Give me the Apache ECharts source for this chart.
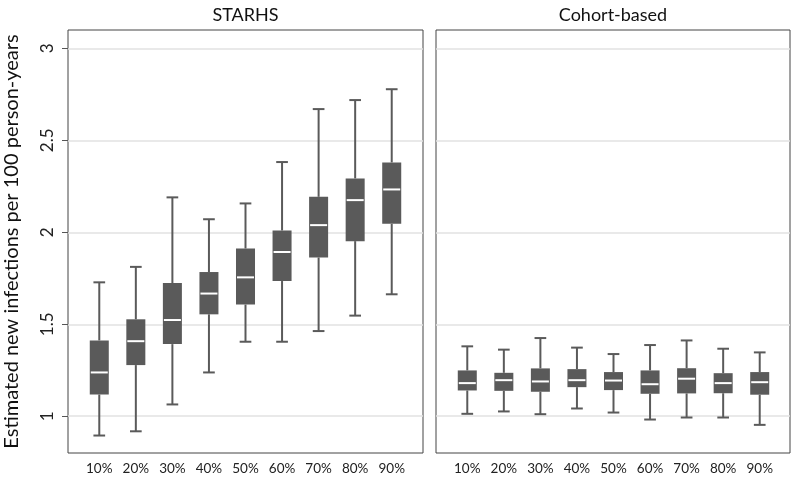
<!DOCTYPE html>
<html>
<head>
<meta charset="utf-8">
<script src="https://cdn.jsdelivr.net/npm/echarts@6/dist/echarts.min.js"></script>
<style>
html,body{margin:0;padding:0;background:#fff;}
#chart{width:800px;height:482px;}
</style>
</head>
<body>
<div id="chart"></div>
<script>
// ---- data ----
const categories = ['10%', '20%', '30%', '40%', '50%', '60%', '70%', '80%', '90%'];
const panelTitles = ['STARHS', 'Cohort-based'];
const yTicks = [1, 1.5, 2, 2.5, 3];
const yName = 'Estimated new infections per 100 person-years';
// each row: [lower whisker, Q1, median, Q3, upper whisker]
const starhs = [
  [0.895, 1.118, 1.238, 1.412, 1.728],
  [0.918, 1.278, 1.408, 1.527, 1.812],
  [1.064, 1.392, 1.523, 1.724, 2.190],
  [1.238, 1.554, 1.667, 1.784, 2.071],
  [1.405, 1.607, 1.755, 1.912, 2.157],
  [1.405, 1.735, 1.893, 2.010, 2.382],
  [1.463, 1.863, 2.039, 2.193, 2.670],
  [1.547, 1.952, 2.175, 2.293, 2.719],
  [1.663, 2.046, 2.233, 2.380, 2.778]
];
const cohort = [
  [1.013, 1.140, 1.180, 1.249, 1.380],
  [1.026, 1.138, 1.196, 1.236, 1.362],
  [1.011, 1.133, 1.189, 1.260, 1.425],
  [1.042, 1.158, 1.196, 1.256, 1.373],
  [1.020, 1.142, 1.194, 1.240, 1.338],
  [0.982, 1.122, 1.174, 1.249, 1.387],
  [0.993, 1.124, 1.204, 1.261, 1.412],
  [0.993, 1.125, 1.180, 1.234, 1.367],
  [0.953, 1.117, 1.185, 1.240, 1.347]
];

const Y_MIN = 0.8, Y_MAX = 3.1;
const FONT = 'Lato, "Noto Sans", sans-serif';
const BOX = '#5a5a5a';

function renderBox(params, api) {
  const c = api.value(0);
  const lo = api.value(1), q1 = api.value(2), med = api.value(3), q3 = api.value(4), hi = api.value(5);
  const band = api.size([1, 0])[0];
  const bw = band * 0.52, cw = band * 0.32;
  const pLo = api.coord([c, lo]), pQ1 = api.coord([c, q1]), pMed = api.coord([c, med]),
        pQ3 = api.coord([c, q3]), pHi = api.coord([c, hi]);
  const x = pLo[0];
  const ls = {stroke: BOX, lineWidth: 2};
  return {
    type: 'group',
    children: [
      {type: 'line', shape: {x1: x, y1: pHi[1], x2: x, y2: pQ3[1]}, style: ls},
      {type: 'line', shape: {x1: x, y1: pQ1[1], x2: x, y2: pLo[1]}, style: ls},
      {type: 'line', shape: {x1: x - cw / 2, y1: pHi[1], x2: x + cw / 2, y2: pHi[1]}, style: ls},
      {type: 'line', shape: {x1: x - cw / 2, y1: pLo[1], x2: x + cw / 2, y2: pLo[1]}, style: ls},
      {type: 'rect', shape: {x: x - bw / 2, y: pQ3[1], width: bw, height: pQ1[1] - pQ3[1]}, style: {fill: BOX}},
      {type: 'line', shape: {x1: x - bw / 2 + 1, y1: pMed[1], x2: x + bw / 2 - 1, y2: pMed[1]}, style: {stroke: '#fff', lineWidth: 2}}
    ]
  };
}

const frames = [
  {left: 68, top: 30, width: 355, height: 423},
  {left: 436, top: 30, width: 354, height: 423}
];
const dataGrids = [
  {left: 81, top: 30, width: 329, height: 423},
  {left: 449, top: 30, width: 329, height: 423}
];

const grid = [], xAxis = [], yAxis = [], series = [];
frames.forEach((f, i) => {
  grid.push(Object.assign({show: true, borderColor: '#444', borderWidth: 1, backgroundColor: 'transparent'}, f));
  xAxis.push({type: 'value', gridIndex: i, show: false, min: 0, max: 1});
  yAxis.push({
    type: 'value', gridIndex: i, min: Y_MIN, max: Y_MAX,
    name: i === 0 ? yName : '',
    nameLocation: 'middle', nameRotate: 90, nameGap: 46,
    nameTextStyle: {fontSize: 20, color: '#111', fontFamily: FONT},
    axisLine: {show: false},
    axisTick: {show: i === 0, length: 6, lineStyle: {color: '#555'}, customValues: yTicks},
    axisLabel: {show: i === 0, rotate: 90, fontSize: 17, color: '#222', fontFamily: FONT, margin: 12, customValues: yTicks},
    splitLine: {show: true, lineStyle: {color: '#e2e2e2', width: 1.5}}
  });
});
[starhs, cohort].forEach((d, i) => {
  const gi = i + 2;
  grid.push(Object.assign({show: false}, dataGrids[i]));
  xAxis.push({
    type: 'category', gridIndex: gi, data: categories,
    axisLine: {show: false}, axisTick: {show: false},
    axisLabel: {fontSize: 13.5, color: '#222', fontFamily: FONT, margin: 9}
  });
  yAxis.push({type: 'value', gridIndex: gi, min: Y_MIN, max: Y_MAX, show: false, splitLine: {show: false}});
  series.push({
    type: 'custom', name: panelTitles[i], xAxisIndex: gi, yAxisIndex: gi,
    renderItem: renderBox,
    encode: {x: 0, y: [1, 2, 3, 4, 5]},
    data: d.map((r, k) => [k].concat(r))
  });
});

const chart = echarts.init(document.getElementById('chart'), null, {renderer: 'canvas'});
chart.setOption({
  animation: false,
  textStyle: {fontFamily: FONT},
  graphic: panelTitles.map((t, i) => ({
    type: 'text',
    x: frames[i].left + frames[i].width / 2,
    y: 15,
    style: {text: t, fontSize: 18, fill: '#111', fontFamily: FONT, align: 'center', verticalAlign: 'middle'}
  })),
  grid, xAxis, yAxis, series
});
</script>
</body>
</html>
